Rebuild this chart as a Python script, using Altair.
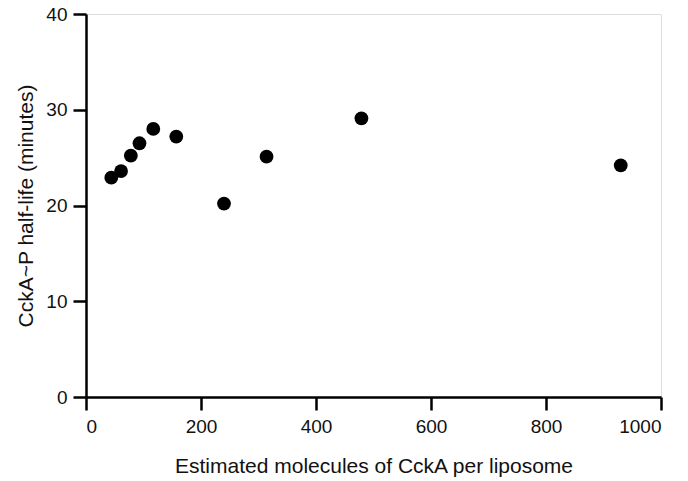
import altair as alt
import pandas as pd

molecules = [44, 61, 78, 93, 117, 157, 240, 314, 479, 930]
half_life = [22.9, 23.6, 25.2, 26.5, 28.0, 27.2, 20.2, 25.1, 29.1, 24.2]

df = pd.DataFrame({"molecules": molecules, "half_life": half_life})

FONT = "Liberation Sans"

common = dict(grid=False, tickSize=13, tickWidth=2.5, domainWidth=2.5,
              domainColor="black", tickColor="black", labelFontSize=19,
              labelColor="#111", labelFont=FONT,
              titleFont=FONT, titleFontWeight="normal", titleColor="#111")

chart = alt.Chart(df).mark_circle(size=190, color="black", opacity=1).encode(
    x=alt.X("molecules:Q",
            scale=alt.Scale(domain=[0, 1000], nice=False, zero=True),
            axis=alt.Axis(values=[0, 200, 400, 600, 800, 1000], format="d",
                          title="Estimated molecules of CckA per liposome",
                          labelPadding=7, titleFontSize=21, titlePadding=19, **common)),
    y=alt.Y("half_life:Q",
            scale=alt.Scale(domain=[0, 40], nice=False),
            axis=alt.Axis(values=[0, 10, 20, 30, 40], format="d",
                          title="CckA~P half-life (minutes)",
                          labelPadding=6, titleFontSize=21, titlePadding=9, **common)),
).properties(
    width=575, height=383,
    autosize=alt.AutoSizeParams(type="none"),
    padding={"left": 86, "top": 14, "right": 27, "bottom": 84},
).configure_view(stroke=None).configure(background="white")

chart.save("out.html", embed_options={"renderer": "svg", "actions": False})
